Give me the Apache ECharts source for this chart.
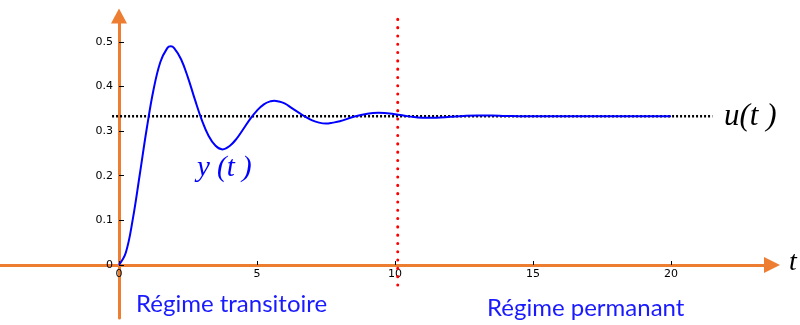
<!DOCTYPE html>
<html><head><meta charset="utf-8">
<script src="https://cdn.jsdelivr.net/npm/echarts@6/dist/echarts.min.js"></script>
<style>html,body{margin:0;padding:0;background:#fff}#c{width:800px;height:325px}</style>
</head><body><div id="c"></div>
<script>
// time samples (s) and response y(t)
const tValues = [0,0.25,0.5,0.75,1,1.25,1.5,1.75,1.875,2,2.25,2.5,2.75,3,3.25,3.5,3.75,4,4.25,4.5,4.75,5,5.25,5.5,5.625,5.75,6,6.25,6.5,6.75,7,7.25,7.5,7.75,8,8.5,9,9.4,10,10.5,11,11.5,12,12.5,13,13.5,14,15,16,17,18,19,20];
const yValues = [0,0.028,0.102,0.201,0.303,0.392,0.455,0.486,0.490,0.486,0.461,0.42,0.371,0.325,0.289,0.267,0.259,0.266,0.282,0.304,0.327,0.346,0.36,0.367,0.368,0.367,0.362,0.352,0.342,0.332,0.324,0.319,0.317,0.319,0.322,0.332,0.339,0.341,0.338,0.333,0.330,0.330,0.332,0.334,0.335,0.335,0.334,0.333,0.333,0.333,0.333,0.333,0.333];
// set-point u(t)
const uLevel = 0.3333;
const uRange = [-0.25, 21.5];
// boundary between transient and steady-state regimes
const regimeBoundary = 10.1;
const boundarySpan = [-0.045, 0.554];
// tick labels
const xTickLabels = [0, 5, 10, 15, 20];
const yTickLabels = [0, 0.1, 0.2, 0.3, 0.4, 0.5];

const orange = '#ED7D31';
const chart = echarts.init(document.getElementById('c'));
chart.setOption({
  animation: false,
  grid: { left: 0, right: 28, top: 16, bottom: 7, containLabel: false, outerBoundsMode: 'none' },
  xAxis: {
    type: 'value', min: -4.31, max: 23.66, position: 'bottom', offset: -53,
    splitLine: { show: false },
    axisLine: { onZero: false, lineStyle: { color: orange, width: 3 }, symbol: ['none', 'triangle'], symbolSize: [16, 16] },
    axisTick: { show: true, inside: true, length: 4, lineStyle: { color: '#000', width: 1 }, customValues: xTickLabels },
    axisLabel: { customValues: xTickLabels, color: '#000', fontFamily: 'DejaVu Sans', fontSize: 11, margin: 4, hideOverlap: false }
  },
  yAxis: {
    type: 'value', min: -0.119, max: 0.558, position: 'left', offset: -119,
    splitLine: { show: false },
    axisLine: { onZero: false, lineStyle: { color: orange, width: 3 }, symbol: ['none', 'triangle'], symbolSize: [16, 15] },
    axisTick: { show: true, inside: true, length: 5, lineStyle: { color: '#000', width: 1 }, customValues: yTickLabels },
    axisLabel: { customValues: yTickLabels, color: '#000', fontFamily: 'DejaVu Sans', fontSize: 11, margin: 6, hideOverlap: false }
  },
  series: [
    {
      type: 'line', name: 'u', showSymbol: false, silent: true, z: 3,
      data: uRange.map(t => [t, uLevel]),
      lineStyle: { color: '#000', width: 2.5, type: [2, 2] }
    },
    {
      type: 'line', name: 'y', showSymbol: false, smooth: 0.4, z: 4,
      data: tValues.map((t, i) => [t, yValues[i]]),
      lineStyle: { color: '#0000ff', width: 2 }
    },
    {
      type: 'line', name: 'boundary', showSymbol: false, silent: true, z: 5,
      data: boundarySpan.map(v => [regimeBoundary, v]),
      lineStyle: { color: '#ff0000', width: 3, type: [0.1, 8.2], cap: 'round' }
    }
  ],
  graphic: [
    { type: 'text', left: 197, top: 154, style: { text: 'y (t )', font: 'italic 29px "Liberation Serif"', fill: '#0000ff' } },
    { type: 'text', left: 724, top: 101, style: { text: 'u(t )', font: 'italic 31px "Liberation Serif"', fill: '#000' } },
    { type: 'text', left: 789, top: 249, style: { text: 't', font: 'italic 28px "Liberation Serif"', fill: '#000' } },
    { type: 'text', left: 136, top: 292, style: { text: 'Régime transitoire', font: '24px Lato', fill: '#1a1aff' } },
    { type: 'text', left: 487, top: 296, style: { text: 'Régime permanant', font: '24px Lato', fill: '#1a1aff' } }
  ]
});
</script></body></html>
